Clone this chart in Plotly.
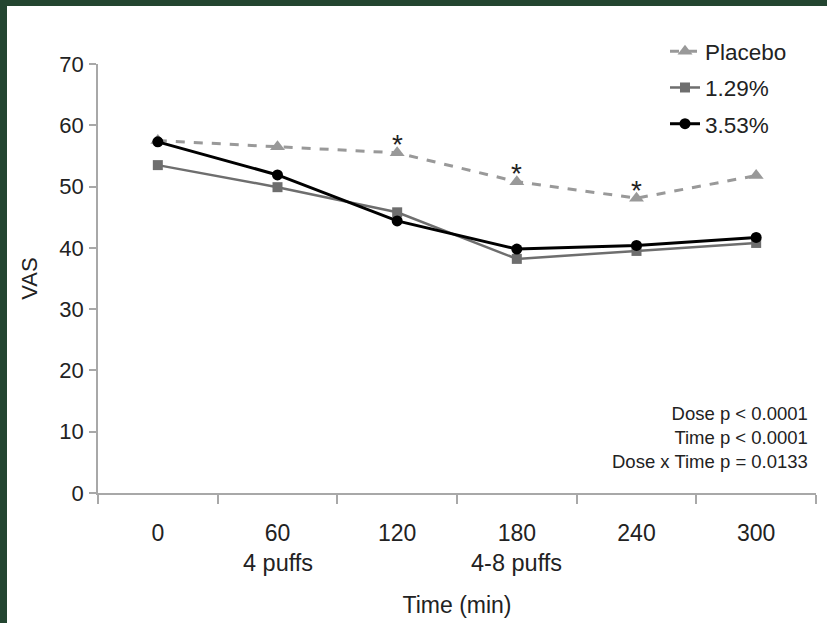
import plotly.graph_objects as go

time_labels = ["0", "60", "120", "180", "240", "300"]
placebo = [57.5, 56.5, 55.5, 50.8, 48.1, 51.8]
dose_129 = [53.5, 49.9, 45.8, 38.2, 39.5, 40.8]
dose_353 = [57.3, 51.9, 44.4, 39.8, 40.4, 41.7]
sig_idx = [2, 3, 4]
sub_labels = {1: "4 puffs", 3: "4-8 puffs"}
stats_text = "Dose p < 0.0001<br>Time p < 0.0001<br>Dose x Time p = 0.0133"

FONT = "Liberation Sans, Arial, sans-serif"
GREEN = "#234530"
AXIS = "#a8a8a8"
TXT = "#222222"

fig = go.Figure()
fig.add_trace(go.Scatter(
    x=time_labels, y=placebo, name="Placebo", mode="lines+markers",
    line=dict(color="#999999", width=3, dash="dash"),
    marker=dict(symbol="triangle-up", size=13, color="#999999"),
    legendgroup="a"))
fig.add_trace(go.Scatter(
    x=time_labels, y=dose_129, name="1.29%", mode="lines+markers",
    line=dict(color="#6e6e6e", width=2.5),
    marker=dict(symbol="square", size=10, color="#6e6e6e"),
    legendgroup="b"))
fig.add_trace(go.Scatter(
    x=time_labels, y=dose_353, name="3.53%", mode="lines+markers",
    line=dict(color="#000000", width=3),
    marker=dict(symbol="circle", size=11, color="#000000"),
    legendgroup="c"))

annotations = []
for i in sig_idx:
    annotations.append(dict(x=i, y=placebo[i], xref="x", yref="y",
                            text="*", showarrow=False, yshift=8,
                            font=dict(size=28, color=TXT, family=FONT)))
for k, v in sub_labels.items():
    annotations.append(dict(x=k, y=-70 / 429, xref="x", yref="paper", text=v,
                            yanchor="middle", showarrow=False,
                            font=dict(size=23.5, color=TXT, family=FONT)))
annotations.append(dict(x=(810 - 98) / 718, y=0.215, xref="paper", yref="paper", xanchor="right",
                        yanchor="top", align="right", text=stats_text, showarrow=False,
                        font=dict(size=18.5, color=TXT, family=FONT)))

shapes = [
    dict(type="rect", xref="paper", yref="paper", x0=-1, x1=(7 - 98) / 718, y0=-1, y1=2,
         fillcolor=GREEN, line=dict(width=0)),
    dict(type="rect", xref="paper", yref="paper", x0=-1, x1=2, y0=(493 - 6) / 429, y1=2,
         fillcolor=GREEN, line=dict(width=0)),
]

fig.update_layout(
    width=827, height=623,
    margin=dict(l=98, r=11, t=64, b=130),
    paper_bgcolor="white", plot_bgcolor="white",
    font=dict(family=FONT, color=TXT),
    showlegend=True,
    legend=dict(x=(665 - 98) / 718, y=1.079, xanchor="left", yanchor="top",
                font=dict(size=22.5, color=TXT, family=FONT),
                tracegroupgap=4, bgcolor="rgba(0,0,0,0)", itemwidth=30),
    annotations=annotations,
    shapes=shapes,
    xaxis=dict(type="category", range=[-0.5, 5.5], tickson="boundaries", automargin=False,
               showline=True, linecolor=AXIS, linewidth=1.5,
               ticks="outside", ticklen=9, tickcolor=AXIS, tickwidth=1.5,
               showgrid=False, zeroline=False, ticklabelstandoff=19,
               tickfont=dict(size=23, color=TXT, family=FONT),
               title=dict(text="Time (min)", standoff=52,
                          font=dict(size=23, color=TXT, family=FONT))),
    yaxis=dict(range=[0, 70], dtick=10, automargin=False,
               showline=True, linecolor=AXIS, linewidth=1.5,
               ticks="outside", ticklen=7, tickcolor=AXIS, tickwidth=1.5,
               showgrid=False, zeroline=False, ticklabelstandoff=1,
               tickfont=dict(size=22, color=TXT, family=FONT),
               title=dict(text="VAS", standoff=16,
                          font=dict(size=22, color=TXT, family=FONT))),
)

fig.write_html("out.html", config={"displayModeBar": False},
               post_script="document.body.style.margin='0px';")
